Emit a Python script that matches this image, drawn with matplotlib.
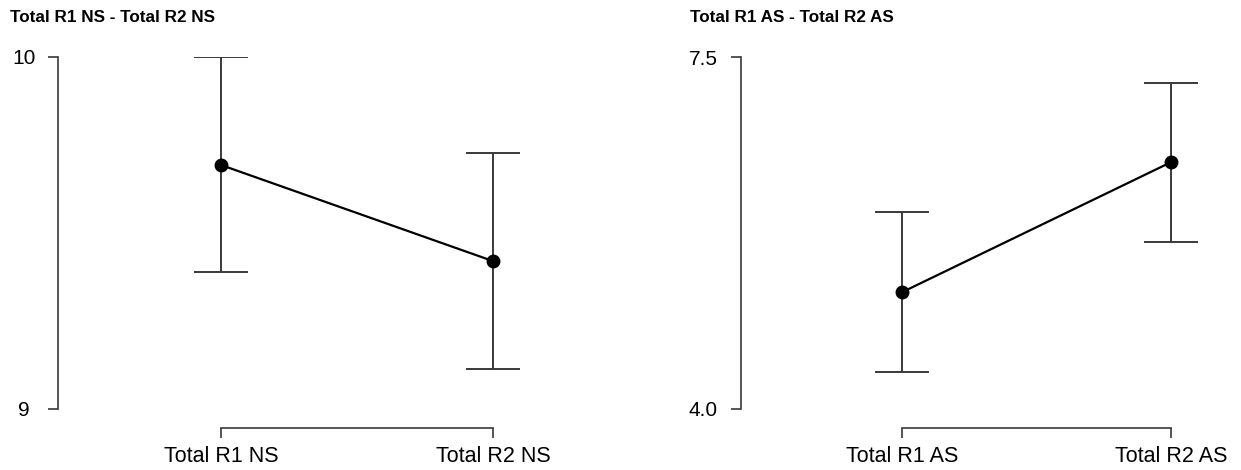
import numpy as np
import matplotlib
matplotlib.use("Agg")
import matplotlib.pyplot as plt

plt.rcParams['font.family'] = ['Liberation Sans', 'DejaVu Sans']

# Panel 1: NS
ns_labels = ["Total R1 NS", "Total R2 NS"]
ns_mean = [9.693, 9.420]
ns_lower = [9.389, 9.114]
ns_upper = [10.0, 9.727]

# Panel 2: AS
as_labels = ["Total R1 AS", "Total R2 AS"]
as_mean = [5.163, 6.456]
as_lower = [4.368, 5.661]
as_upper = [5.959, 7.241]

W, H = 1241, 470
fig = plt.figure(figsize=(W / 100, H / 100), dpi=100)

panels = [
    dict(labels=ns_labels, mean=ns_mean, lo=ns_lower, hi=ns_upper,
         ylim=(9, 10), ticks=[9, 10], ticklabels=["9", "10"],
         left=58, xmax=1.4, ppu=272, title="Total R1 NS - Total R2 NS",
         tx=10, ypad=17),
    dict(labels=as_labels, mean=as_mean, lo=as_lower, hi=as_upper,
         ylim=(4.0, 7.5), ticks=[4.0, 7.5], ticklabels=["4.0", "7.5"],
         left=741, xmax=1.25, ppu=269, title="Total R1 AS - Total R2 AS",
         tx=690, ypad=19.5),
]

top_px, bot_px = 57, 409
for p in panels:
    width_px = (p["xmax"] + 0.6) * p["ppu"]
    ax = fig.add_axes([p["left"] / W, (H - bot_px) / H, width_px / W,
                       (bot_px - top_px) / H])
    # spine placement first (it resets tick properties)
    for s in ["top", "right"]:
        ax.spines[s].set_visible(False)
    ax.spines["bottom"].set_position(('outward', 13.5))

    x = np.arange(len(p["labels"]))
    mean = np.array(p["mean"])
    yerr = [mean - np.array(p["lo"]), np.array(p["hi"]) - mean]
    ax.errorbar(x, mean, yerr=yerr, fmt='none', ecolor='#3a3a3a',
                elinewidth=1.4, capsize=19.5, capthick=1.4, zorder=2)
    ax.plot(x, mean, color='black', lw=1.6, zorder=3)
    ax.plot(x, mean, 'o', color='black', ms=9, zorder=4)

    ax.set_xlim(-0.6, p["xmax"])
    ax.set_ylim(*p["ylim"])
    ax.set_xticks(x)
    ax.set_xticklabels(p["labels"])
    ax.set_yticks(p["ticks"])
    ax.set_yticklabels(p["ticklabels"], ha='center')

    ax.spines["left"].set_bounds(*p["ylim"])
    ax.spines["bottom"].set_bounds(0, 1)
    for s in ["left", "bottom"]:
        ax.spines[s].set_color('#3a3a3a')
        ax.spines[s].set_linewidth(1.2)
    ax.tick_params(axis='both', length=7.5, width=1.2, color='#3a3a3a',
                   labelsize=15)
    ax.tick_params(axis='x', pad=5.5, labelsize=15.5)
    ax.tick_params(axis='y', pad=p["ypad"])
    ax.patch.set_visible(False)

    fig.text(p["tx"] / W, 1 - 18 / H, p["title"], fontsize=12.3,
             fontweight='bold', va='center', ha='left')

fig.savefig("out.png", dpi=100)
